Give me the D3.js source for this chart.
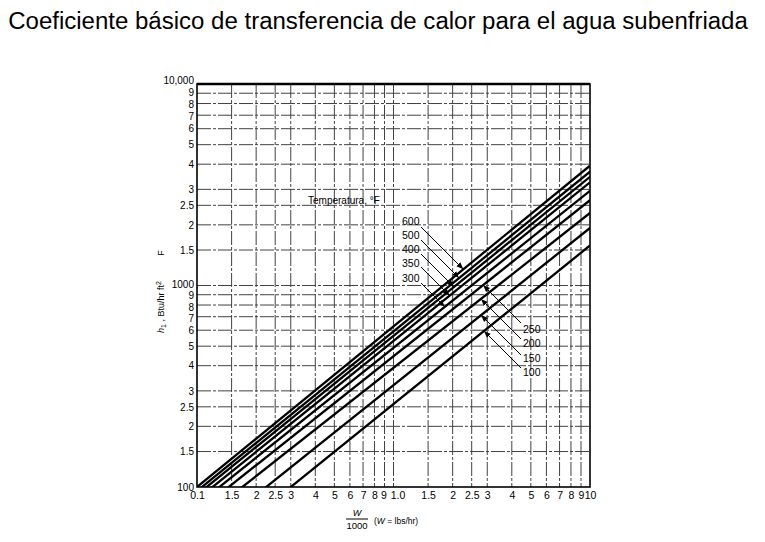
<!DOCTYPE html>
<html><head><meta charset="utf-8">
<script src="https://cdn.jsdelivr.net/npm/d3@7/dist/d3.min.js"></script>
<style>body{margin:0;background:#fff}svg{display:block}</style>
</head><body>
<svg id="c" width="765" height="542"></svg>
<script>
// ---- data ----
const titleText = "Coeficiente básico de transferencia de calor para el agua subenfriada";
const temperatures = [600, 500, 400, 350, 300, 250, 200, 150, 100];
// W/1000 where each line reaches h = 100
const wAtH100 = [0.100, 0.106, 0.112, 0.120, 0.130, 0.145, 0.170, 0.225, 0.300];
// h at W/1000 = 10
const hAtW10 = [3930, 3670, 3460, 3250, 2950, 2650, 2290, 1930, 1580];
const xTicks = [0.1,0.15,0.2,0.25,0.3,0.4,0.5,0.6,0.7,0.8,0.9,1,1.5,2,2.5,3,4,5,6,7,8,9,10];
const xTickLabels = ["0.1","1.5","2","2.5","3","4","5","6","7","8","9","1.0","1.5","2","2.5","3","4","5","6","7","8","9","10"];
const yTicks = [100,150,200,250,300,400,500,600,700,800,900,1000,1500,2000,2500,3000,4000,5000,6000,7000,8000,9000,10000];
const yTickLabels = ["100","1.5","2","2.5","3","4","5","6","7","8","9","1000","1.5","2","2.5","3","4","5","6","7","8","9","10,000"];
const legendTitle = "Temperatura, °F";

// ---- layout ----
const L = 197, R = 590, T = 84, B = 487;
const svg = d3.select("#c");
const x = d3.scaleLog().domain([0.1, 10]).range([L, R]);
const y = d3.scaleLog().domain([100, 10000]).range([B, T]);
const font = "'Liberation Sans', Arial, sans-serif";

// title (fit to width)
const tt = svg.append("text").attr("x", 378).attr("y", 29).attr("text-anchor", "middle")
  .attr("font-family", font).attr("font-size", 20).attr("fill", "#000").text(titleText);
const tw = tt.node().getComputedTextLength();
tt.attr("font-size", 20 * 740 / tw);

// clip
svg.append("clipPath").attr("id", "clip").append("rect")
  .attr("x", L).attr("y", T).attr("width", R - L).attr("height", B - T);

// grid
const grid = svg.append("g").attr("stroke", "#222").attr("stroke-width", 1)
  .attr("stroke-dasharray", "14,2,3,2").attr("opacity", 0.85);
grid.selectAll("line.v").data(xTicks.slice(1, -1)).join("line")
  .attr("x1", d => x(d)).attr("x2", d => x(d)).attr("y1", T).attr("y2", B);
grid.selectAll("line.h").data(yTicks.slice(1, -1)).join("line").attr("class", "h")
  .attr("y1", d => y(d)).attr("y2", d => y(d)).attr("x1", L).attr("x2", R);

// axes via d3 axes (labels only)
const xAxis = d3.axisBottom(x).tickValues(xTicks).tickFormat((d, i) => xTickLabels[i]).tickSize(0).tickPadding(5);
const gx = svg.append("g").attr("transform", `translate(0,${B})`).call(xAxis);
const yAxis = d3.axisLeft(y).tickValues(yTicks).tickFormat((d, i) => yTickLabels[i]).tickSize(0).tickPadding(3);
const gy = svg.append("g").attr("transform", `translate(${L},0)`).call(yAxis);
[gx, gy].forEach(g => {
  g.select(".domain").remove();
  g.selectAll("text").attr("font-family", font).attr("fill", "#000");
});
gx.selectAll("text").attr("font-size", 10.5);
gy.selectAll("text").attr("font-size", 10);
gx.selectAll("text").filter(d => d === 1).attr("dx", 4);
gx.selectAll("text").filter(d => d === 0.9).attr("dx", -1);
// small nudges where crowded labels would collide
const yNudge = new Map([[10000, -4], [9000, -0.8], [8000, 0.4], [7000, 0.7],
                        [1000, -1.5], [900, 0.8], [800, 2], [700, 2]]);
gy.selectAll("text").filter(d => yNudge.has(d)).attr("y", d => yNudge.get(d));

// series lines
const lines = svg.append("g").attr("clip-path", "url(#clip)");
const seriesPts = temperatures.map((t, i) => [[wAtH100[i], 100], [10, hAtW10[i]]]);
// each line is straight in log-log; extend slightly beyond the left edge (clipped)
function hAt(i, w) {
  const s = Math.log(hAtW10[i] / 100) / Math.log(10 / wAtH100[i]);
  return 100 * Math.pow(w / wAtH100[i], s);
}
const lineGen = d3.line().x(d => x(d[0])).y(d => y(d[1]));
lines.selectAll("path").data(seriesPts).join("path")
  .attr("d", (d, i) => lineGen([[0.08, hAt(i, 0.08)], d[1]]))
  .attr("fill", "none").attr("stroke", "#000").attr("stroke-width", 2.3);

// frame
svg.append("rect").attr("x", L).attr("y", T).attr("width", R - L).attr("height", B - T)
  .attr("fill", "none").attr("stroke", "#000").attr("stroke-width", 1.6);
svg.append("line").attr("x1", L).attr("x2", R).attr("y1", T).attr("y2", T).attr("stroke", "#000").attr("stroke-width", 2.5);

// legend
svg.append("text").attr("x", 308).attr("y", 204).attr("font-family", font).attr("font-size", 10)
  .attr("fill", "#000").text(legendTitle);
svg.append("defs").append("marker").attr("id", "ah").attr("viewBox", "0 0 10 10")
  .attr("refX", 10).attr("refY", 5).attr("markerWidth", 7).attr("markerHeight", 7)
  .attr("orient", "auto").append("path").attr("d", "M0,1 L10,5 L0,9 Z").attr("fill", "#000");

function hitLine(i, x0, y0, dx, dy) {
  const f = t => { const px = x0 + dx * t, py = y0 + dy * t; return py - y(hAt(i, x.invert(px))); };
  let a = 0, b = 200;
  for (let k = 0; k < 60; k++) { const m = (a + b) / 2; if (Math.sign(f(m)) === Math.sign(f(a))) a = m; else b = m; }
  return [x0 + dx * a, y0 + dy * a];
}
const leftLab = [{t: 600, ly: 221, sy: 227}, {t: 500, ly: 235, sy: 240}, {t: 400, ly: 249, sy: 254},
                 {t: 350, ly: 263, sy: 267}, {t: 300, ly: 278, sy: 283}];
leftLab.forEach(o => {
  const i = temperatures.indexOf(o.t);
  svg.append("text").attr("x", 402).attr("y", o.ly + 4).attr("font-family", font).attr("font-size", 10.5)
    .attr("fill", "#000").text(o.t);
  const [ex, ey] = hitLine(i, 421, o.sy, 1, 1);
  svg.append("line").attr("x1", 421).attr("y1", o.sy).attr("x2", ex).attr("y2", ey)
    .attr("stroke", "#000").attr("stroke-width", 1).attr("marker-end", "url(#ah)");
});
const rightLab = [{t: 250, ly: 329, sy: 323}, {t: 200, ly: 343, sy: 339}, {t: 150, ly: 358, sy: 355},
                  {t: 100, ly: 372, sy: 368}];
rightLab.forEach(o => {
  const i = temperatures.indexOf(o.t);
  svg.append("text").attr("x", 523).attr("y", o.ly + 4).attr("font-family", font).attr("font-size", 10.5)
    .attr("fill", "#000").text(o.t);
  const [ex, ey] = hitLine(i, 521, o.sy, -1, -1);
  svg.append("line").attr("x1", 521).attr("y1", o.sy).attr("x2", ex).attr("y2", ey)
    .attr("stroke", "#000").attr("stroke-width", 1).attr("marker-end", "url(#ah)");
});

// y axis title
const yt = svg.append("text").attr("transform", "translate(164,307) rotate(-90)")
  .attr("text-anchor", "middle").attr("font-family", font).attr("font-size", 9).attr("fill", "#000");
yt.append("tspan").attr("font-style", "italic").text("h");
yt.append("tspan").attr("font-size", 7).attr("dy", 2).text("1");
yt.append("tspan").attr("dy", -2).text(" , Btu/hr ft");
yt.append("tspan").attr("font-size", 7).attr("dy", -3).text("2");
svg.append("text").attr("transform", "translate(164,253) rotate(-90)")
  .attr("text-anchor", "middle").attr("font-family", font).attr("font-size", 9).attr("fill", "#000").text("F");

// x axis title
svg.append("text").attr("x", 357).attr("y", 516).attr("text-anchor", "middle").attr("font-family", font)
  .attr("font-size", 9).attr("font-style", "italic").text("W");
svg.append("line").attr("x1", 346).attr("x2", 368).attr("y1", 519).attr("y2", 519).attr("stroke", "#000");
svg.append("text").attr("x", 357).attr("y", 529).attr("text-anchor", "middle").attr("font-family", font)
  .attr("font-size", 9.5).text("1000");
const xt = svg.append("text").attr("x", 374).attr("y", 524).attr("font-family", font).attr("font-size", 8.5);
xt.append("tspan").text("(");
xt.append("tspan").attr("font-style", "italic").text("W");
xt.append("tspan").text(" = lbs/hr)");
</script>
</body></html>
